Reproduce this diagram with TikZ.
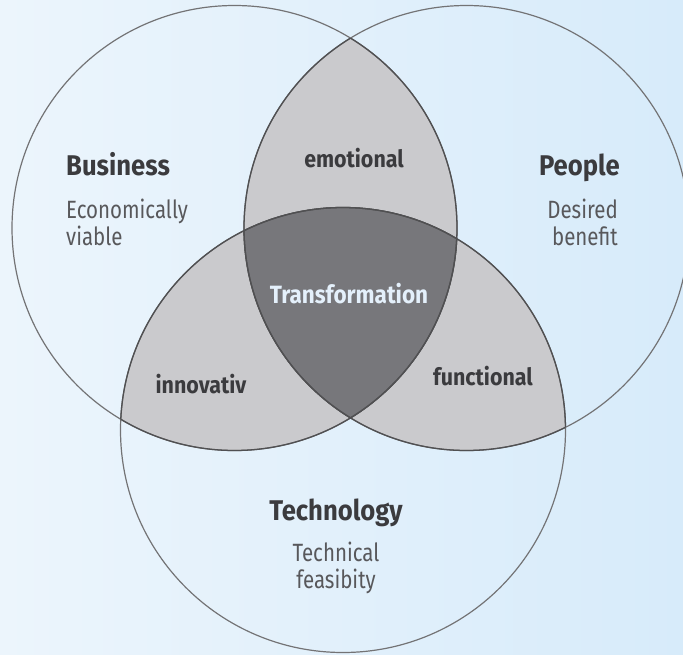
\documentclass[tikz,border=0pt]{standalone}
\usepackage{fontspec}
\setmainfont{Fira Sans}[FakeStretch=0.9]
\newfontfamily\narrowfont{Fira Sans}[FakeStretch=0.82]
\definecolor{bgL}{HTML}{ECF5FC}
\definecolor{bgR}{HTML}{D7EBFA}
\definecolor{lens}{HTML}{CACACD}
\definecolor{core}{HTML}{77777B}
\definecolor{outline}{HTML}{737375}
\definecolor{inner}{HTML}{505052}
\definecolor{head}{HTML}{3B3B3E}
\definecolor{sub}{HTML}{58585B}
\definecolor{trans}{HTML}{E4F0FB}
\tikzset{
  headlbl/.style={text=head, font=\fontsize{28.5}{30}\selectfont\bfseries, inner sep=0pt},
  sublbl/.style={text=sub, font=\narrowfont\fontsize{25}{27}\selectfont, inner sep=0pt},
  lenslbl/.style={text=head, font=\fontsize{23.8}{28}\selectfont\bfseries, inner sep=0pt},
  ring/.style={draw=outline, line width=1.2pt},
  innerring/.style={draw=inner, line width=1.3pt}
}
\begin{document}
\begin{tikzpicture}[x=1pt,y=-1pt]
\useasboundingbox (0,0) rectangle (683,654);
\shade[left color=bgL, right color=bgR] (0,0) rectangle (683,654);
\def\R{222.5}
\coordinate (B) at (234.5,228);
\coordinate (P) at (466.5,228);
\coordinate (T) at (343,430);
% pairwise lenses
\begin{scope}\clip (B) circle (\R); \fill[lens] (P) circle (\R); \fill[lens] (T) circle (\R);\end{scope}
\begin{scope}\clip (P) circle (\R); \fill[lens] (T) circle (\R);\end{scope}
% triple
\begin{scope}\clip (B) circle (\R); \clip (P) circle (\R); \fill[core] (T) circle (\R);\end{scope}
% outer rings
\begin{scope}
\clip (0,0) rectangle (683,654);
\draw[ring] (B) circle (\R);
\draw[ring] (P) circle (\R);
\draw[ring] (T) circle (\R);
\end{scope}
% inner boundaries darker
\begin{scope}\clip (B) circle (\R); \draw[innerring] (P) circle (\R); \draw[innerring] (T) circle (\R);\end{scope}
\begin{scope}\clip (P) circle (\R); \draw[innerring] (B) circle (\R); \draw[innerring] (T) circle (\R);\end{scope}
\begin{scope}\clip (T) circle (\R); \draw[innerring] (B) circle (\R); \draw[innerring] (P) circle (\R);\end{scope}
% labels
\node[headlbl, anchor=base west] (business) at (66,175) {Business};
\node[sublbl, anchor=base west, align=left] (businesssub) at (66,245) {Economically\\viable};
\node[headlbl, anchor=base east] (people) at (620,175) {People};
\node[sublbl, anchor=base east, align=right] (peoplesub) at (618,245) {Desired\\benefit};
\node[headlbl, anchor=base] (technology) at (336,520) {Technology};
\node[sublbl, anchor=base, align=center] (techsub) at (336,588) {Technical\\feasibity};
\node[lenslbl, anchor=base] (emotional) at (354,167) {emotional};
\node[lenslbl, anchor=base] (innovativ) at (201,393) {innovativ};
\node[lenslbl, anchor=base] (functional) at (483,385) {functional};
\node[lenslbl, font=\fontsize{25}{28}\selectfont\bfseries, text=trans, anchor=base] (transformation) at (349,303) {Transformation};
\end{tikzpicture}
\end{document}
